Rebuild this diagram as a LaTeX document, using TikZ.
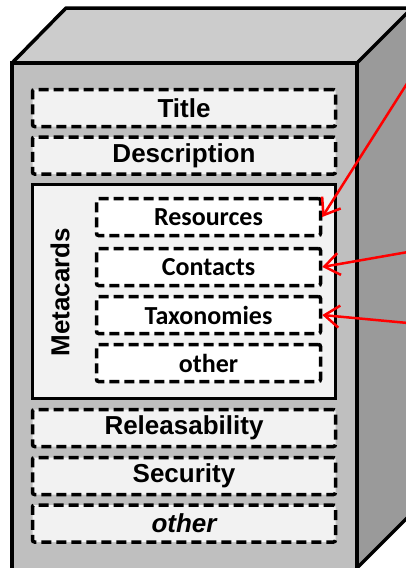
\documentclass[tikz,border=0pt]{standalone}
\usepackage{fontspec}
\setmainfont{Liberation Sans}
\newfontfamily\cardfont{Carlito}
\usetikzlibrary{arrows.meta}

\definecolor{frontgray}{HTML}{BFBFBF}
\definecolor{topgray}{HTML}{CCCCCC}
\definecolor{sidegray}{HTML}{9A9A9A}
\definecolor{boxgray}{HTML}{F2F2F2}

\begin{document}
\begin{tikzpicture}[x=1pt,y=-1pt,
	field/.style={draw, line width=3.5pt, dash pattern=on 10pt off 5pt, rounded corners=2pt,
		fill=boxgray, minimum width=303pt, minimum height=37pt, inner sep=0pt,
		font=\fontsize{26}{28}\selectfont\bfseries},
	card/.style={field, fill=white, minimum width=224pt, font=\cardfont\fontsize{26}{28}\selectfont\bfseries},
	link/.style={draw=red, line width=2.5pt, -{Straight Barb[length=15pt,width=22pt]}}]
			\useasboundingbox (0,0) rectangle (406,568);
			\clip (0,0) rectangle (406,568);
			
			%draw the cabinet faces
			\draw[line width=3.5pt, line join=round, fill=topgray] (12,63) -- (66,8) -- (430,8) -- (357,63) -- cycle; %top
			\draw[line width=3.5pt, line join=round, fill=sidegray] (357,63) -- (412,8) -- (412,513) -- (357,568) -- cycle; %side
			\draw[line width=3.5pt, fill=frontgray] (12,63) rectangle (357,575); %front
			
			%fields on the front
			\node[field] (title) at (184,108) {Title};
			\node[field] (descr) at (184,155.5) {Description};
			\node[field] (release) at (184,428) {Releasability};
			\node[field] (security) at (184,476) {Security};
			\node[field] (other) at (184,523.5) {\itshape other};
			
			%metacards frame
			\draw[line width=3.5pt, fill=boxgray] (32.5,184.5) rectangle (335.5,398.5);
			\node[rotate=90, font=\fontsize{26}{28}\selectfont\bfseries] (meta) at (60,292) {Metacards};
			
			%cards inside the frame
			\node[card] (res) at (208.5,217) {Resources};
			\node[card] (cont) at (208.5,267) {Contacts};
			\node[card] (tax) at (208.5,315) {Taxonomies};
			\node[card] (mother) at (208.5,363) {other};
			
			%red links coming in from the right
			\coordinate (from1) at (408,82);
			\coordinate (from2) at (408,252);
			\coordinate (from3) at (408,323);
			\draw[link] (from1) -- (res.east);
			\draw[link] (from2) -- (cont.east);
			\draw[link] (from3) -- (tax.east);
		\end{tikzpicture}
\end{document}
